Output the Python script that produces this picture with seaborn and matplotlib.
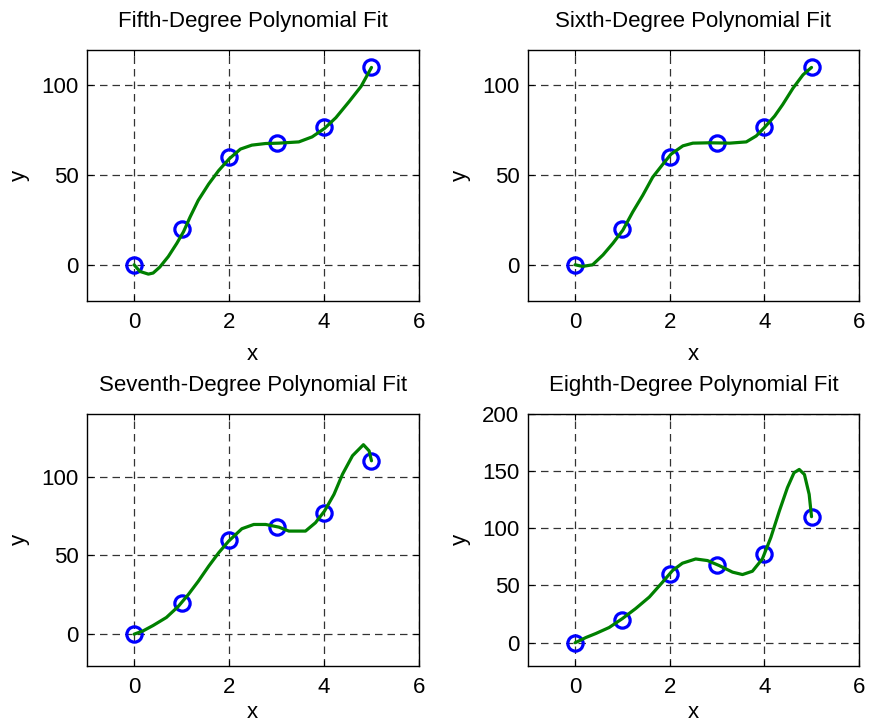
import matplotlib
matplotlib.use("Agg")
import matplotlib.pyplot as plt
import seaborn as sns
import pandas as pd

sns.set_theme(style="white")
plt.rcParams['font.family'] = ['Liberation Sans', 'DejaVu Sans']

# data points
x_data = [0, 1, 2, 3, 4, 5]
y_data = [0, 20, 60, 68, 77, 110]

# fitted curves
x5 = [0, 0.12, 0.30, 0.40, 0.54, 0.72, 0.90, 1.04, 1.18, 1.35, 1.57, 1.78, 2.0, 2.24, 2.48, 2.77, 3.05, 3.47, 3.75, 4.01, 4.25, 4.53, 4.78, 5.0]
y5 = [0, -3.7, -5.2, -4.6, -1.3, 4.6, 12, 18.4, 26.7, 35.9, 45, 52.5, 59, 64.5, 66.7, 67.6, 67.8, 68.5, 71.3, 76, 82, 91, 99.4, 110]

x6 = [0, 0.16, 0.37, 0.59, 0.80, 1.01, 1.22, 1.43, 1.64, 1.86, 2.03, 2.28, 2.49, 2.84, 3.27, 3.62, 3.83, 4.0, 4.22, 4.39, 4.61, 4.82, 5.0]
y6 = [0, -0.9, 0, 5.5, 12, 19.3, 29.5, 38.7, 48.8, 56.2, 61.7, 66.3, 67.8, 68, 67.8, 68.5, 71.8, 76.4, 82.9, 89.3, 98.5, 105.9, 110]

x7 = [0, 0.19, 0.40, 0.68, 0.93, 1.14, 1.35, 1.57, 1.78, 1.99, 2.27, 2.52, 2.77, 3.05, 3.26, 3.61, 3.82, 4.01, 4.21, 4.39, 4.60, 4.83, 4.95, 5.0]
y7 = [0, 2.1, 5.5, 10.6, 17.6, 25.1, 33.5, 43.1, 51.6, 59, 66.9, 69.6, 69.6, 67.9, 65.4, 65.4, 70.7, 78.1, 88.7, 101.5, 113.2, 120.2, 116.3, 110]

x8 = [0, 0.23, 0.44, 0.72, 1.0, 1.28, 1.57, 1.85, 2.06, 2.27, 2.55, 2.80, 3.05, 3.33, 3.54, 3.75, 3.96, 4.14, 4.32, 4.49, 4.63, 4.74, 4.85, 4.95, 5.0]
y8 = [0, 4.6, 8.1, 13.3, 21.1, 29.8, 39.9, 52.9, 63, 69.4, 73.1, 71.7, 67.3, 61.6, 59.5, 62.4, 73.1, 91.9, 115, 135.3, 148.3, 151.2, 146.8, 129.5, 110]

titles = ["Fifth-Degree Polynomial Fit", "Sixth-Degree Polynomial Fit",
          "Seventh-Degree Polynomial Fit", "Eighth-Degree Polynomial Fit"]
curves = [(x5, y5), (x6, y6), (x7, y7), (x8, y8)]
ylims = [(-20, 120), (-20, 120), (-20, 140), (-20, 200)]
yticks_list = [[0, 50, 100], [0, 50, 100], [0, 50, 100], [0, 50, 100, 150, 200]]
xticks = [0, 2, 4, 6]

positions = [
    [0.0995, 0.587, 0.3815, 0.345],
    [0.606, 0.587, 0.380, 0.345],
    [0.0995, 0.0856, 0.3815, 0.3464],
    [0.606, 0.0856, 0.380, 0.3464],
]

FS = 16
fig = plt.figure(figsize=(8.71, 7.28), dpi=100)
fig.patch.set_facecolor("white")

pts = pd.DataFrame({"x": x_data, "y": y_data})

for i in range(4):
    ax = fig.add_axes(positions[i])
    ax.set_facecolor("white")
    cx, cy = curves[i]
    cdf = pd.DataFrame({"x": cx, "y": cy})
    sns.lineplot(data=pts, x="x", y="y", ax=ax, marker="o", linestyle="",
                 markersize=11, markerfacecolor="none", markeredgecolor="#0000ff",
                 markeredgewidth=2.3, color="#0000ff", estimator=None, sort=False,
                 zorder=3)
    sns.lineplot(data=cdf, x="x", y="y", ax=ax, color="#008000", linewidth=2.3,
                 estimator=None, sort=False, zorder=4)
    ax.set_xlim(-1, 6)
    ax.set_ylim(*ylims[i])
    ax.set_xticks(xticks)
    ax.set_yticks(yticks_list[i])
    ax.grid(True, color="#333333", linestyle=(0, (6, 4)), linewidth=0.9)
    for s in ax.spines.values():
        s.set_color("black")
        s.set_linewidth(1.0)
        s.set_visible(True)
    ax.tick_params(direction="in", length=4, width=0.8, colors="black",
                   labelsize=FS, pad=8, top=True, right=True,
                   bottom=True, left=True)
    ax.tick_params(axis="y", pad=6)
    ax.set_title(titles[i], fontsize=FS, color="black", pad=16)
    ax.set_xlabel("x", fontsize=FS, color="black", labelpad=8 if i < 2 else 3)
    ax.set_ylabel("y", fontsize=FS, color="black", labelpad=8)

fig.savefig("out.png", dpi=100, facecolor="white")
